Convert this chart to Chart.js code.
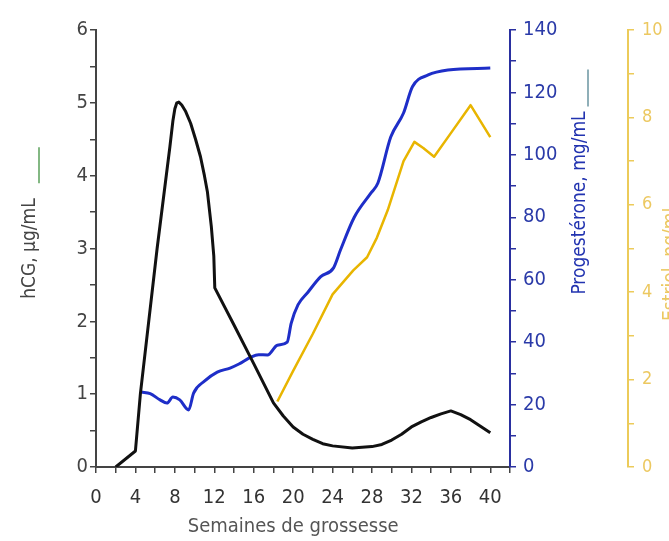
<!DOCTYPE html>
<html>
<head>
<meta charset="utf-8">
<script src="https://cdn.jsdelivr.net/npm/chart.js@4"></script>
<style>
  html, body { margin: 0; padding: 0; background: #fff; overflow: hidden; }
  canvas { display: block; }
</style>
</head>
<body>
<canvas id="hormones" width="669" height="541"></canvas>
<script>
// weeks of pregnancy and hormone levels
const hcgWeeks = [2, 4, 4.5, 6.2, 7.5, 7.8, 8.0, 8.2, 8.4, 8.7, 9.1, 9.6, 10.1, 10.6, 11.0, 11.3, 11.7, 11.95, 12.05,
    14, 16, 18, 19, 20, 21, 22, 23, 24, 26, 28, 29, 30, 31, 32, 33, 34, 35, 36, 37, 38, 39, 40];
const hcgValues = [0, 0.22, 1.0, 3.0, 4.4, 4.75, 4.92, 5.0, 5.01, 4.97, 4.88, 4.72, 4.5, 4.26, 4.0, 3.78, 3.3, 2.9, 2.46,
    1.95, 1.42, 0.88, 0.7, 0.55, 0.45, 0.38, 0.32, 0.29, 0.26, 0.28, 0.31, 0.37, 0.45, 0.55, 0.62, 0.68, 0.73, 0.77, 0.72, 0.65, 0.56, 0.47];

const progWeeks = [4.6, 5.5, 6.5, 7.2, 7.8, 8.5, 9.4, 9.9, 11, 12.3, 13.6, 14.5, 15.7, 16.5, 17.4, 18.4, 19.4, 19.8, 20.5, 21.5, 22.8, 24.1, 24.8, 26.2, 27.9, 28.6, 29.9, 31.2, 32.1, 33.7, 35.7, 40];
const progValues = [24, 23.5, 21.5, 20.5, 22.4, 21.5, 18.3, 23.7, 27.5, 30.4, 31.7, 33, 35.2, 36, 35.9, 39, 40, 46, 52, 56, 61, 63.8, 69.5, 80, 87.8, 91, 105.7, 113.4, 121.8, 125.6, 127.2, 127.8];

const estWeeks = [18.4, 20, 22, 24, 26.1, 27.5, 28.5, 29.6, 31.2, 32.3, 33.2, 34.3, 36, 38, 40];
const estValues = [1.5, 2.2, 3.05, 3.95, 4.5, 4.8, 5.25, 5.88, 7.0, 7.44, 7.3, 7.1, 7.64, 8.28, 7.55];

const xLabel = 'Semaines de grossesse';
const hcgLabel = 'hCG, µg/mL';
const progLabel = 'Progestérone, mg/mL';
const estLabel = 'Estriol, ng/mL';

const FONT = "'DejaVu Sans Condensed', 'Liberation Sans', Arial, sans-serif";
const BLUE = '#1e2ec8';
const GOLD = '#e8b500';

function pairs(xs, ys) {
    return xs.map((x, i) => ({ x: x, y: ys[i] }));
}

// axis titles read bottom-to-top on every side, with a small coloured dash
const axisTitles = {
    id: 'axisTitles',
    afterDraw(chart) {
        const ctx = chart.ctx;
        const area = chart.chartArea;
        ctx.save();
        ctx.font = '19px ' + FONT;
        ctx.textAlign = 'center';
        ctx.textBaseline = 'middle';

        function vertical(text, cx, cy, color) {
            ctx.save();
            ctx.translate(cx, cy);
            ctx.rotate(-Math.PI / 2);
            ctx.fillStyle = color;
            ctx.fillText(text, 0, 0);
            ctx.restore();
            return ctx.measureText(text).width;
        }

        // hCG
        const cyH = (area.top + area.bottom) / 2;
        const wH = vertical(hcgLabel, 30, cyH, '#444');
        ctx.strokeStyle = '#5aa05a';
        ctx.lineWidth = 1.5;
        ctx.beginPath();
        ctx.moveTo(39, cyH - wH / 2 - 15);
        ctx.lineTo(39, cyH - wH / 2 - 51);
        ctx.stroke();

        // progesterone
        const cyP = area.top + 173;
        const wP = vertical(progLabel, 580, cyP, '#2233b0');
        ctx.strokeStyle = '#6a95a0';
        ctx.beginPath();
        ctx.moveTo(588, cyP - wP / 2 - 5);
        ctx.lineTo(588, cyP - wP / 2 - 42);
        ctx.stroke();

        // estriol (cut by the right edge)
        vertical(estLabel, 671, area.top + 232, '#ecc860');

        // x title
        ctx.font = '20px ' + FONT;
        ctx.fillStyle = '#555';
        ctx.textBaseline = 'alphabetic';
        ctx.fillText(xLabel, chart.scales.x.getPixelForValue(20), 532);
        ctx.restore();
    }
};

function axisStyle(color) {
    return {
        display: true,
        drawOnChartArea: false,
        drawTicks: true,
        tickLength: 6,
        tickColor: color,
        lineWidth: 1.5,
        color: color
    };
}

new Chart(document.getElementById('hormones'), {
    type: 'line',
    data: {
        datasets: [
            {
                label: 'hCG',
                data: pairs(hcgWeeks, hcgValues),
                yAxisID: 'y',
                borderColor: '#111',
                borderWidth: 3,
                tension: 0,
                borderJoinStyle: 'round',
                pointRadius: 0
            },
            {
                label: 'Progestérone',
                data: pairs(progWeeks, progValues),
                yAxisID: 'y1',
                borderColor: BLUE,
                borderWidth: 3,
                cubicInterpolationMode: 'monotone',
                pointRadius: 0
            },
            {
                label: 'Estriol',
                data: pairs(estWeeks, estValues),
                yAxisID: 'y2',
                borderColor: GOLD,
                borderWidth: 2.5,
                tension: 0,
                borderJoinStyle: 'round',
                pointRadius: 0
            }
        ]
    },
    options: {
        responsive: false,
        animation: false,
        devicePixelRatio: 1,
        layout: { padding: { top: 30, left: 0, right: 0, bottom: 0 } },
        plugins: {
            legend: { display: false },
            tooltip: { enabled: false }
        },
        scales: {
            x: {
                type: 'linear',
                min: 0,
                max: 42,
                afterFit: s => { s.height = 74; },
                border: { display: true, color: '#444', width: 2 },
                grid: axisStyle('#444'),
                ticks: {
                    stepSize: 2,
                    autoSkip: false,
                    maxRotation: 0,
                    padding: 13,
                    color: '#333',
                    font: { family: FONT, size: 20 },
                    callback: v => (v % 4 === 0 && v <= 40) ? v : ''
                }
            },
            y: {
                position: 'left',
                min: 0,
                max: 6,
                afterFit: s => { s.width = 96; },
                border: { display: true, color: '#444', width: 2 },
                grid: axisStyle('#444'),
                ticks: {
                    stepSize: 0.5,
                    autoSkip: false,
                    padding: 2,
                    color: '#444',
                    font: { family: FONT, size: 20 },
                    callback: v => Number.isInteger(v) ? v : ''
                }
            },
            y1: {
                position: 'right',
                weight: 0,
                min: 0,
                max: 140,
                afterFit: s => { s.width = 118; },
                border: { display: true, color: '#2a30a0', width: 2 },
                grid: axisStyle('#2a30a0'),
                ticks: {
                    stepSize: 10,
                    autoSkip: false,
                    padding: 7,
                    color: '#2a3aa8',
                    font: { family: FONT, size: 20 },
                    callback: v => v % 20 === 0 ? v : ''
                }
            },
            y2: {
                position: 'right',
                weight: 1,
                min: 0,
                max: 10,
                afterFit: s => { s.width = 41; },
                border: { display: true, color: '#eccb5a', width: 2 },
                grid: axisStyle('#eccb5a'),
                ticks: {
                    stepSize: 1,
                    autoSkip: false,
                    padding: 8,
                    color: '#ecc860',
                    font: { family: FONT, size: 18 },
                    callback: v => v % 2 === 0 ? v : ''
                }
            }
        }
    },
    plugins: [axisTitles]
});
</script>
</body>
</html>
